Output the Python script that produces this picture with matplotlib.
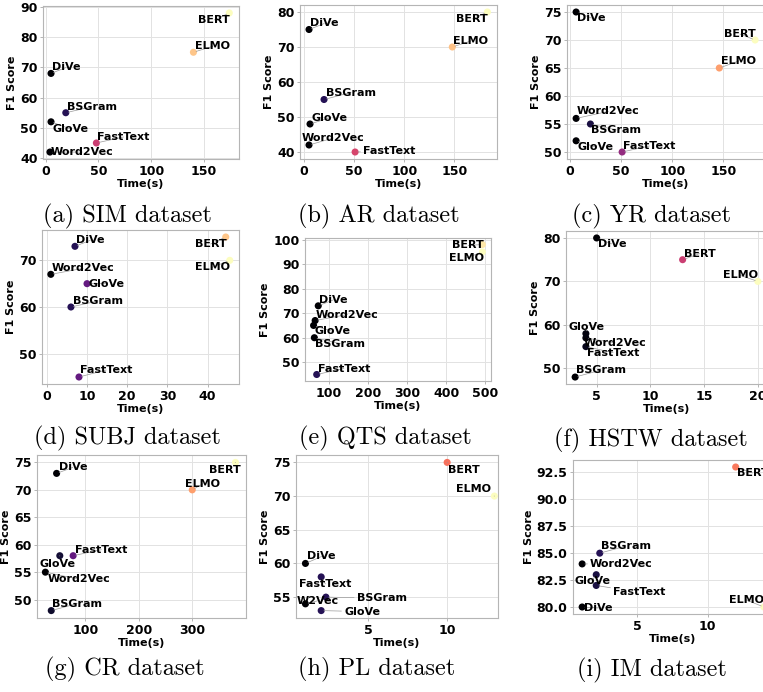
import matplotlib
matplotlib.use("Agg")
import matplotlib.pyplot as plt

plt.rcParams['font.family'] = ['DejaVu Sans']
plt.rcParams['font.weight'] = 'bold'

# ---- data ----
captions = ['(a) SIM dataset', '(b) AR dataset', '(c) YR dataset',
            '(d) SUBJ dataset', '(e) QTS dataset', '(f) HSTW dataset',
            '(g) CR dataset', '(h) PL dataset', '(i) IM dataset']

sim_names = ['DiVe', 'BSGram', 'GloVe', 'FastText', 'Word2Vec', 'ELMO', 'BERT']
sim_time = [5, 19, 5, 48, 4, 140, 174]
sim_f1 = [68, 55, 52, 45, 42, 75, 88]

ar_names = ['DiVe', 'BSGram', 'GloVe', 'Word2Vec', 'FastText', 'ELMO', 'BERT']
ar_time = [5, 20, 6, 5, 51, 148, 183]
ar_f1 = [75, 55, 48, 42, 40, 70, 80]

yr_names = ['DiVe', 'BERT', 'ELMO', 'Word2Vec', 'BSGram', 'GloVe', 'FastText']
yr_time = [6, 181, 146, 6, 20, 6, 51]
yr_f1 = [75, 70, 65, 56, 55, 52, 50]

subj_names = ['DiVe', 'Word2Vec', 'GloVe', 'BSGram', 'FastText', 'BERT', 'ELMO']
subj_time = [7, 1, 10, 6, 8, 44.5, 45.5]
subj_f1 = [73, 67, 65, 60, 45, 75, 70]

qts_names = ['DiVe', 'Word2Vec', 'GloVe', 'BSGram', 'FastText', 'BERT', 'ELMO']
qts_time = [72, 64, 60, 62, 68, 493, 493]
qts_f1 = [73, 67, 65, 60, 45, 98, 95]

hstw_names = ['DiVe', 'BERT', 'ELMO', 'GloVe', 'Word2Vec', 'FastText', 'BSGram']
hstw_time = [5, 13, 20, 4, 4, 4, 3]
hstw_f1 = [80, 75, 70, 58, 57, 55, 48]

cr_names = ['DiVe', 'ELMO', 'BERT', 'FastText', 'GloVe', 'Word2Vec', 'BSGram']
cr_time = [46, 300, 381, 77, 52, 25, 36]
cr_f1 = [73, 70, 75, 58, 58, 55, 48]

pl_names = ['DiVe', 'FastText', 'BSGram', 'W2Vec', 'GloVe', 'BERT', 'ELMO']
pl_time = [1, 2, 2.3, 1, 2, 10, 13]
pl_f1 = [60, 58, 55, 54, 53, 75, 70]

im_names = ['BERT', 'ELMO', 'BSGram', 'Word2Vec', 'GloVe', 'FastText', 'DiVe']
im_time = [12, 14, 2.35, 1.1, 2.1, 2.1, 1.1]
im_f1 = [93, 80, 85, 84, 83, 82, 80]

names = [sim_names, ar_names, yr_names, subj_names, qts_names, hstw_names,
         cr_names, pl_names, im_names]
times = [sim_time, ar_time, yr_time, subj_time, qts_time, hstw_time,
         cr_time, pl_time, im_time]
f1s = [sim_f1, ar_f1, yr_f1, subj_f1, qts_f1, hstw_f1, cr_f1, pl_f1, im_f1]

xticks = [[0, 50, 100, 150], [0, 50, 100, 150], [0, 50, 100, 150],
          [0, 10, 20, 30, 40], [100, 200, 300, 400, 500], [5, 10, 15, 20],
          [100, 200, 300], [5, 10], [5, 10]]
yticks = [[40, 50, 60, 70, 80, 90], [40, 50, 60, 70, 80], [50, 55, 60, 65, 70, 75],
          [50, 60, 70], [50, 60, 70, 80, 90, 100], [50, 60, 70, 80],
          [50, 55, 60, 65, 70, 75], [55, 60, 65, 70, 75],
          [80, 82.5, 85, 87.5, 90, 92.5]]

# ---- layout / style ----
W, H = 763, 692
# axes boxes in pixels: left, top, right, bottom
boxes = [(43, 6, 239, 159), (300, 5, 497, 159), (567, 5, 764, 159),
         (42, 230, 239, 384), (305, 238, 491, 381), (566, 231, 767, 384),
         (37, 455, 246, 618), (296, 455, 498, 618), (573, 460, 773, 614)]
xlims = [(-2.6, 183.2), (-4, 192.6), (-2.9, 189.7), (-1.2, 47.8), (38, 515),
         (2.15, 20.85), (9.3, 400.7), (0.4, 13.23), (0.45, 14.65)]
ylims = [(39.7, 90.3), (38, 82), (48.75, 76.25), (43.5, 76.5), (42.35, 100.65),
         (46.4, 81.6), (46.65, 76.35), (51.9, 76.1), (79.35, 93.65)]
cap_pos = [(127, 216), (379, 216), (651, 216), (127, 438), (385, 438),
           (651, 440), (125, 669), (377, 669), (652, 670)]

# colour (magma fraction) of each point
shades = [[0, 0.15, 0, 0.55, 0, 0.88, 1.0],
          [0, 0.15, 0, 0, 0.58, 0.87, 1.0],
          [0, 1.0, 0.8, 0, 0.12, 0, 0.42],
          [0.15, 0, 0.3, 0.15, 0.3, 0.88, 1.0],
          [0, 0, 0, 0, 0.15, 0.95, 1.0],
          [0, 0.55, 1.0, 0.03, 0.03, 0.05, 0],
          [0, 0.8, 1.0, 0.3, 0.1, 0, 0.08],
          [0, 0.15, 0.15, 0, 0.15, 0.7, 1.0],
          [0.72, 1.0, 0.15, 0, 0.12, 0.12, 0]]

# label offsets (pixels, left/baseline of text relative to the point)
offsets = [
    [(1, 3), (1, 3), (1, -10), (1, 3), (1, -3), (2, 3), (-31, -10)],
    [(1, 3), (2, 4), (1, 3), (-7, 4), (8, -2), (1, 3), (-31, -10)],
    [(1, -9), (-31, 3), (2, 4), (1, 4), (1, -9), (1, -9), (1, 3)],
    [(1, 3), (1, 3), (1, -3), (2, 3), (1, 4), (-31, -10), (-35, -10)],
    [(1, 3), (1, 3), (1, -9), (1, -9), (1, 3), (-30, -4), (-33, -9)],
    [(1, -9), (1, 3), (-35, 3), (-17, 4), (-2, -8), (1, -9), (1, 4)],
    [(2, 3), (-7, 3), (-26, -11), (2, 3), (-20, -11), (2, -10), (1, 4)],
    [(2, 4), (-22, -10), (31, -4), (-9, 0), (23, -4), (1, -11), (-38, 4)],
    [(1, -9), (-35, 4), (1, 4), (8, -3), (-22, -9), (17, -10), (2, -4)],
]

cmap = plt.get_cmap('magma')

fig = plt.figure(figsize=(W / 100, H / 100), dpi=100)

for i in range(9):
    l, t, r, b = boxes[i]
    ax = fig.add_axes([l / W, 1 - b / H, (r - l) / W, (b - t) / H])
    ax.scatter(times[i], f1s[i], c=[cmap(s) for s in shades[i]], s=26,
               edgecolors='none', zorder=3)
    for j, name in enumerate(names[i]):
        ax.annotate(name, (times[i][j], f1s[i][j]), xytext=offsets[i][j],
                    textcoords='offset pixels', fontsize=8, fontweight='bold',
                    ha='left', va='baseline', zorder=4,
                    arrowprops=dict(arrowstyle='-', color='#999999', lw=0.5,
                                    shrinkA=0, shrinkB=2))
    ax.set_xlim(xlims[i])
    ax.set_ylim(ylims[i])
    ax.set_xticks(xticks[i])
    ax.set_yticks(yticks[i])
    ax.grid(True, color='#e2e2e2', lw=0.7)
    ax.set_axisbelow(True)
    for sp in ax.spines.values():
        sp.set_color('#b5b5b5')
        sp.set_linewidth(0.8)
    ax.tick_params(labelsize=9, length=2.5, width=0.6, color='#aaaaaa', pad=1.5)
    ax.set_xlabel('Time(s)', fontsize=8, fontweight='bold', labelpad=1)
    ax.set_ylabel('F1 Score', fontsize=8, fontweight='bold', labelpad=2)

    cx, cy = cap_pos[i]
    fig.text(cx / W, 1 - cy / H, captions[i], family='cmr10', fontweight='normal',
             ha='center', va='center', fontsize=17.5)

fig.savefig('out.png', dpi=100)
